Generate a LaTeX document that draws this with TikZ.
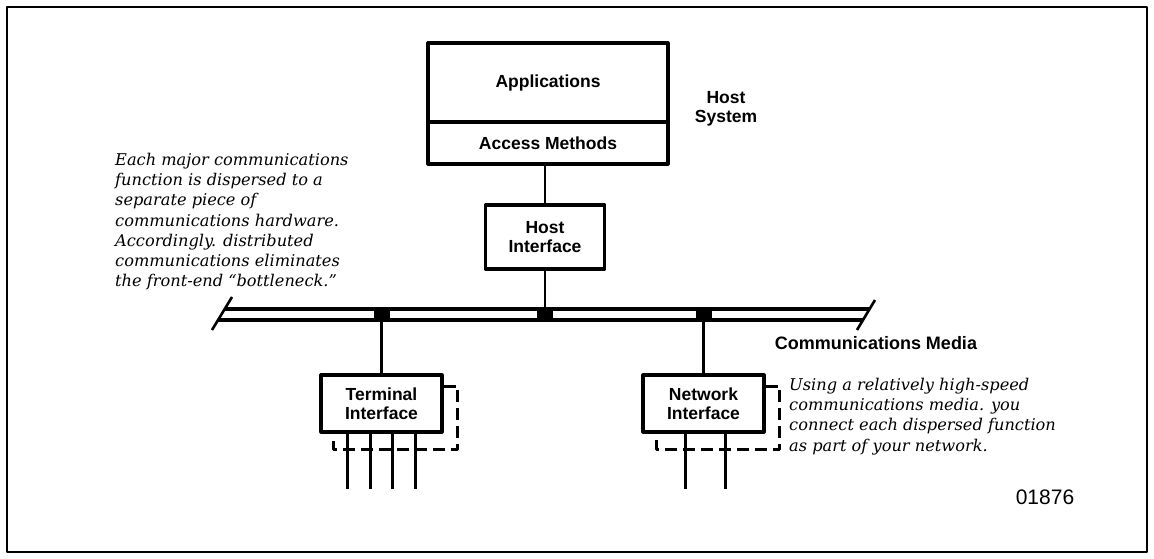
\documentclass[tikz,border=0pt]{standalone}
\usepackage{fontspec}
\newfontfamily\labelfont{Liberation Sans}
\newfontfamily\notefont{DejaVu Serif}
\begin{document}
\begin{tikzpicture}[x=1pt, y=-1pt, line join=round,
  box/.style={draw, line width=3.2pt, inner sep=0pt, align=center,
    font=\labelfont\bfseries\fontsize{17.5}{19}\selectfont},
  tap/.style={fill=black, inner sep=0pt, minimum width=16pt, minimum height=15pt},
  bracket/.style={line width=2.8pt, dash pattern=on 12pt off 6pt},
  note/.style={inner sep=0pt, anchor=north west, align=left,
    font=\notefont\itshape\fontsize{16.2}{20.2}\selectfont},
  lbl/.style={inner sep=0pt, align=center,
    font=\labelfont\bfseries\fontsize{17.5}{18.5}\selectfont}]
\useasboundingbox (0,0) rectangle (1154,559);
\draw[line width=1.8pt] (7,7) rectangle (1147,552);
% host system
\node[box, minimum width=240pt, minimum height=79pt] (apps) at (548,82.5) {Applications};
\node[box, minimum width=240pt, minimum height=42pt] (acc) at (548,143) {Access Methods};
\node[lbl] (host) at (726,109) {Host\\System};
\node[box, minimum width=119pt, minimum height=64pt] (hi) at (545,237) {Host\\Interface};
% communications media
\draw[line width=3.4pt] (224.7,309) -- (869.6,309);
\draw[line width=3.4pt] (218,320) -- (863,320);
\draw[line width=2.6pt] (232,297) -- (212,330);
\draw[line width=2.6pt] (875,300) -- (857,330);
\node[tap] (tap1) at (381.5,314.5) {};
\node[tap] (tap2) at (545,314.5) {};
\node[tap] (tap3) at (703.5,314.5) {};
\node[lbl, font=\labelfont\bfseries\fontsize{18}{18.5}\selectfont] (media) at (876,343) {Communications Media};
% interfaces
\node[box, minimum width=121pt, minimum height=57pt] (term) at (381.5,403.5) {Terminal\\Interface};
\node[box, minimum width=121pt, minimum height=57pt] (net) at (703.5,403.5) {Network\\Interface};
\draw[line width=2.8pt] (hi.north) -- (hi.north |- acc.south);
\draw[line width=2.8pt] (hi.south) -- (tap2.center);
\draw[line width=2.8pt] (tap1.center) -- (term.north);
\draw[line width=2.8pt] (tap3.center) -- (net.north);
\draw[bracket] ([yshift=-13pt]term.north east) -| ([xshift=14pt,yshift=-16pt]term.south east)
  -| ([xshift=14pt,yshift=-3pt]term.south west);
\draw[bracket] ([yshift=-13pt]net.north east) -| ([xshift=14pt,yshift=-16pt]net.south east)
  -| ([xshift=15pt,yshift=-3pt]net.south west);
\foreach \dx in {-34,-11,11,34}
  \draw[line width=2.6pt] ([xshift=\dx pt]term.south) -- ++(0,55);
\foreach \dx in {-18,22}
  \draw[line width=2.6pt] ([xshift=\dx pt]net.south) -- ++(0,55);
% notes
\node[note] (left) at (115,153) {Each major communications\\
  function is dispersed to a\\
  separate piece of\\
  communications hardware.\\
  Accordingly. distributed\\
  communications eliminates\\
  the front-end “bottleneck.”};
\node[note] (right) at (789,378) {Using a relatively high-speed\\
  communications media. you\\
  connect each dispersed function\\
  as part of your network.};
\node[inner sep=0pt, font=\labelfont\fontsize{21}{21}\selectfont] (num) at (1045,497) {01876};
\end{tikzpicture}
\end{document}
